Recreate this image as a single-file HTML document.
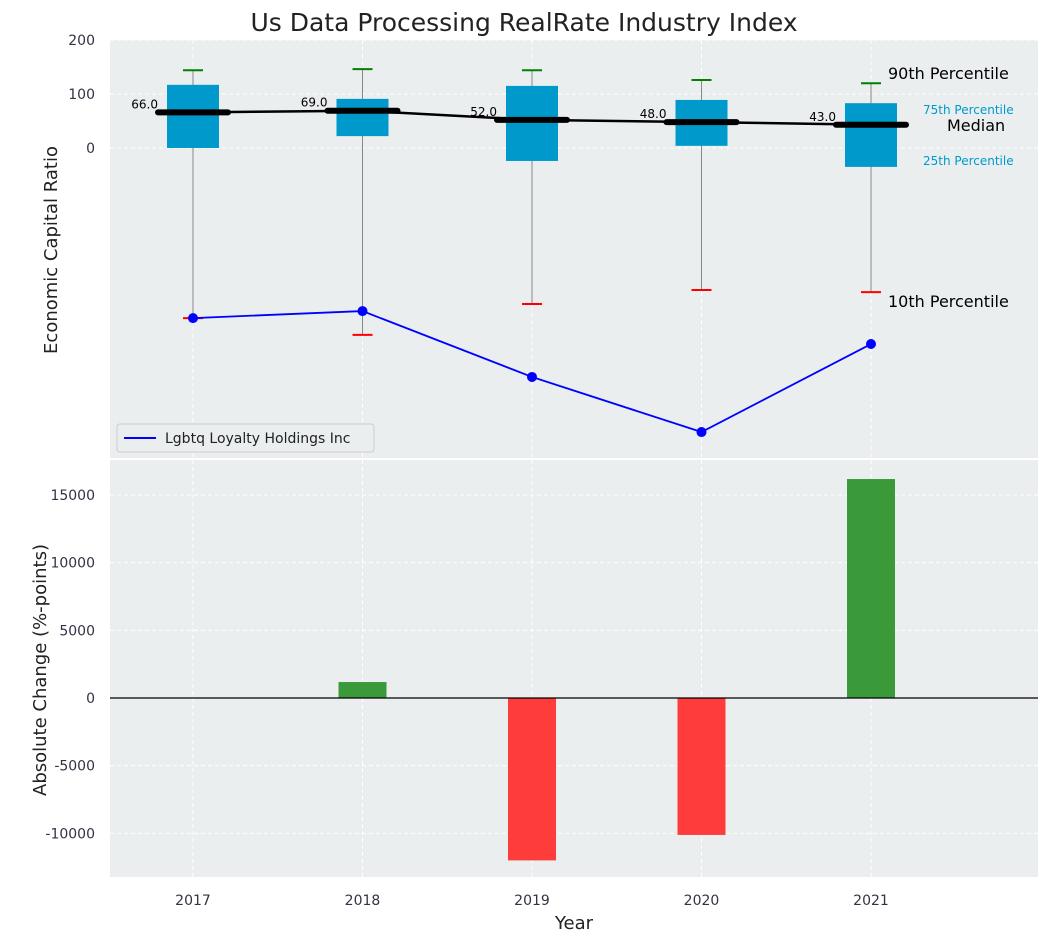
<!DOCTYPE html>
<html><head><meta charset="utf-8"><style>
body{margin:0;background:#fff;font-family:"Liberation Sans","DejaVu Sans",sans-serif}
svg text{font-family:"DejaVu Sans","Liberation Sans",sans-serif}
</style></head><body>
<svg id="c" width="1048" height="942" xmlns="http://www.w3.org/2000/svg">
<rect x="0" y="0" width="1048" height="942" fill="#fff"/>
<text x="524" y="31" font-size="25" text-anchor="middle" fill="#222">Us Data Processing RealRate Industry Index</text>
<rect x="110" y="40" width="928" height="418" fill="#eaeeef"/>
<rect x="110" y="460" width="928" height="417" fill="#eaeeef"/>
<g id="g"></g>
<text x="57" y="250" font-size="18" fill="#222" text-anchor="middle" transform="rotate(-90 57 250)">Economic Capital Ratio</text>
<text x="46" y="670" font-size="18" fill="#222" text-anchor="middle" transform="rotate(-90 46 670)">Absolute Change (%-points)</text>
<text x="574" y="929" font-size="18" fill="#222" text-anchor="middle">Year</text>
<text x="888" y="79" font-size="16" fill="#000">90th Percentile</text>
<text x="923" y="114" font-size="12" fill="#0099cc">75th Percentile</text>
<text x="947" y="131" font-size="16" fill="#000">Median</text>
<text x="923" y="165" font-size="12" fill="#0099cc">25th Percentile</text>
<text x="888" y="307" font-size="16" fill="#000">10th Percentile</text>
<g>
<rect x="117" y="424" width="257" height="28" rx="3" fill="#eaeeef" stroke="#ccc"/>
<line x1="124" y1="438" x2="156" y2="438" stroke="#0000ff" stroke-width="2"/>
<text x="165" y="443" font-size="14" fill="#222">Lgbtq Loyalty Holdings Inc</text>
</g>
</svg>
<script>
const years=[2017,2018,2019,2020,2021];
const p10=[-315,-346,-289,-263,-267];
const p25=[0,22,-24,4,-35];
const medians=[66,69,52,48,43];
const p75=[117,91,115,89,83];
const p90=[144,146,144,126,120];
const company=[-315,-302,-424,-526,-363];
const changes=[0,1180,-12000,-10120,16180];
const topTicks=[0,100,200];
const bottomTicks=[-10000,-5000,0,5000,10000,15000];
const NS="http://www.w3.org/2000/svg";
const g=document.getElementById('g');
function mk(t,a,txt){const e=document.createElementNS(NS,t);for(const k in a)e.setAttribute(k,a[k]);if(txt!==undefined)e.textContent=txt;g.appendChild(e);return e;}
const xs=i=>193+i*169.5;
const yt=v=>148-v*0.54;
const yb=v=>698-v*0.013533;
years.forEach((y,i)=>{
 let e=mk('line',{x1:xs(i),x2:xs(i),y1:40,y2:458,stroke:'#fff','stroke-dasharray':'4,3'});
 
 e=mk('line',{x1:xs(i),x2:xs(i),y1:460,y2:877,stroke:'#fff','stroke-dasharray':'4,3'});
 
 e=mk('text',{x:xs(i),y:905,'font-size':14,fill:'#334','text-anchor':'middle'},String(y));
 
});
topTicks.forEach(v=>{
 let e=mk('line',{x1:110,x2:1038,y1:yt(v),y2:yt(v),stroke:'#fff','stroke-dasharray':'4,3'});
 
 e=mk('text',{x:95,y:yt(v)+5,'font-size':14,fill:'#334','text-anchor':'end'},String(v));
 
});
bottomTicks.forEach(v=>{
 let e=mk('line',{x1:110,x2:1038,y1:yb(v),y2:yb(v),stroke:'#fff','stroke-dasharray':'4,3'});
 
 e=mk('text',{x:95,y:yb(v)+5,'font-size':14,fill:'#334','text-anchor':'end'},String(v));
 
});
years.forEach((y,i)=>{
 const x=xs(i);
 let e=mk('line',{x1:x,x2:x,y1:yt(p90[i]),y2:yt(p10[i]),stroke:'#888','stroke-width':1});
 
 e=mk('rect',{x:x-26,y:yt(p75[i]),width:52,height:yt(p25[i])-yt(p75[i]),fill:'#0099cc'});
 
 e=mk('line',{x1:x-10,x2:x+10,y1:yt(p90[i]),y2:yt(p90[i]),stroke:'green','stroke-width':2});
 
 e=mk('line',{x1:x-10,x2:x+10,y1:yt(p10[i]),y2:yt(p10[i]),stroke:'red','stroke-width':2});
 
 e=mk('line',{x1:x-35,x2:x+35,y1:yt(medians[i]),y2:yt(medians[i]),stroke:'#000','stroke-width':6,'stroke-linecap':'round'});
 
 e=mk('text',{x:x-35,y:yt(medians[i])-4,'font-size':12,fill:'#000','text-anchor':'end'},medians[i].toFixed(1));
 
});
let e=mk('polyline',{points:years.map((y,i)=>xs(i)+','+yt(medians[i])).join(' '),fill:'none',stroke:'#000','stroke-width':2.5});

e=mk('polyline',{points:years.map((y,i)=>xs(i)+','+yt(company[i])).join(' '),fill:'none',stroke:'#0000ff','stroke-width':1.8});

years.forEach((y,i)=>{
 const c=mk('circle',{cx:xs(i),cy:yt(company[i]),r:5,fill:'#0000ff'});
 
});
years.forEach((y,i)=>{
 const v=changes[i];if(!v)return;
 const r=mk('rect',{x:xs(i)-24,y:Math.min(yb(v),yb(0)),width:48,height:Math.abs(yb(v)-yb(0)),fill:v>0?'#3a9a3a':'#ff3c3c'});
 
});
e=mk('line',{x1:110,x2:1038,y1:yb(0),y2:yb(0),stroke:'#000','stroke-width':1.2});

</script>
</body></html>
